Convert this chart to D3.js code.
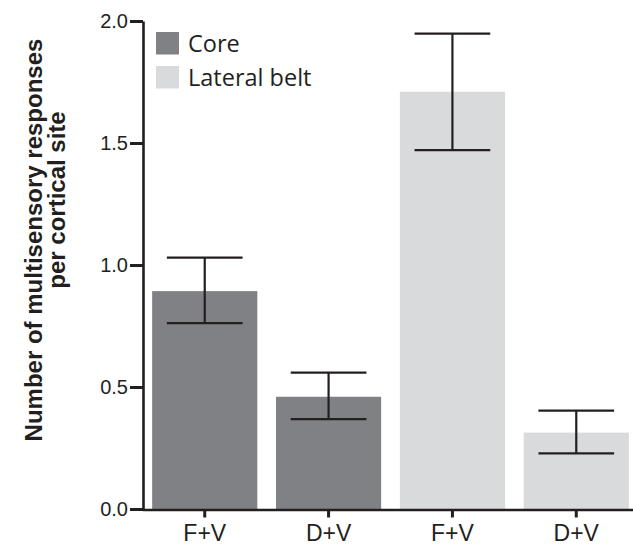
<!DOCTYPE html>
<html lang="en">
<head>
    <meta charset="UTF-8">
    <title></title>
    <style>
        body { margin: 0; background: #fff; }
        .axis text { font-family: "Liberation Sans", Arial, Helvetica, sans-serif; fill: #231f20; }
        .legend text { font-family: "Open Sans", "Noto Sans", sans-serif; fill: #231f20; }
        .ytitle { font-family: "Liberation Sans", Arial, Helvetica, sans-serif; font-weight: bold; fill: #231f20; }
    </style>
</head>
<body>
<svg id="chart"></svg>
<script src="https://cdnjs.cloudflare.com/ajax/libs/d3/7.8.5/d3.min.js"></script>
<script>
    var width = 633;
    var height = 545;

    // data
    var categories = ["F+V", "D+V", "F+V", "D+V"];
    var regions = ["Core", "Core", "Lateral belt", "Lateral belt"];
    var means = [0.893, 0.460, 1.710, 0.313];
    var errHigh = [1.030, 0.559, 1.948, 0.403];
    var errLow = [0.762, 0.368, 1.471, 0.228];
    var yTicks = [0, 0.5, 1.0, 1.5, 2.0];
    var legendItems = ["Core", "Lateral belt"];
    var colors = {"Core": "#808184", "Lateral belt": "#d9dadc"};
    var ink = "#231f20";

    var svg = d3.select("#chart")
        .attr("width", width)
        .attr("height", height);

    var y = d3.scaleLinear().domain([0, 2]).range([509, 21]);
    var x = d3.scaleBand()
        .domain(d3.range(categories.length))
        .range([142.5, 638.5])
        .paddingInner(0.151)
        .paddingOuter(0.078);

    var rows = categories.map(function(c, i) {
        return {i: i, cat: c, region: regions[i], mean: means[i], hi: errHigh[i], lo: errLow[i]};
    });

    //bars
    svg.append("g").selectAll("rect")
        .data(rows)
        .enter()
        .append("rect")
        .attr("x", function(d) { return x(d.i); })
        .attr("width", x.bandwidth())
        .attr("y", function(d) { return y(d.mean); })
        .attr("height", function(d) { return y(0) - y(d.mean); })
        .attr("fill", function(d) { return colors[d.region]; });

    //error bars
    var capW = x.bandwidth() * 0.72;
    var eb = svg.append("g")
        .attr("stroke", ink)
        .attr("stroke-width", 2.2)
        .selectAll("g")
        .data(rows)
        .enter()
        .append("g")
        .attr("transform", function(d) { return "translate(" + (x(d.i) + x.bandwidth() / 2) + ",0)"; });
    eb.append("line")
        .attr("y1", function(d) { return y(d.hi); })
        .attr("y2", function(d) { return y(d.lo); });
    eb.append("line")
        .attr("x1", -capW / 2).attr("x2", capW / 2)
        .attr("y1", function(d) { return y(d.hi); })
        .attr("y2", function(d) { return y(d.hi); });
    eb.append("line")
        .attr("x1", -capW / 2).attr("x2", capW / 2)
        .attr("y1", function(d) { return y(d.lo); })
        .attr("y2", function(d) { return y(d.lo); });

    //y axis
    var yAxis = svg.append("g")
        .attr("class", "axis")
        .attr("transform", "translate(143,0)")
        .call(d3.axisLeft(y).tickValues(yTicks).tickFormat(d3.format(".1f")).tickSize(13).tickPadding(2).tickSizeOuter(0));
    yAxis.select(".domain").attr("stroke", ink).attr("stroke-width", 2.6);
    yAxis.selectAll(".tick line").attr("stroke", ink).attr("stroke-width", 3);
    yAxis.selectAll(".tick text").attr("font-size", 20);

    //x axis
    var xAxis = svg.append("g")
        .attr("class", "axis")
        .attr("transform", "translate(0,509.5)")
        .call(d3.axisBottom(x).tickFormat(function(i) { return categories[i]; }).tickSize(8).tickSizeOuter(0));
    xAxis.select(".domain").attr("stroke", ink).attr("stroke-width", 2.6);
    xAxis.selectAll(".tick line").attr("stroke", ink).attr("stroke-width", 3);
    xAxis.selectAll(".tick text")
        .attr("font-size", 23)
        .attr("dy", null)
        .attr("y", 31);

    //legend
    var legend = svg.append("g")
        .attr("class", "legend")
        .selectAll("g")
        .data(legendItems)
        .enter()
        .append("g")
        .attr("transform", function(d, i) { return "translate(156," + (32 + 34 * i) + ")"; });
    legend.append("rect")
        .attr("width", 23)
        .attr("height", 22.5)
        .attr("fill", function(d) { return colors[d]; });
    legend.append("text")
        .attr("x", 32)
        .attr("y", 20)
        .attr("font-size", 23.5)
        .text(function(d) { return d; });

    //y title, two lines
    svg.append("text")
        .attr("class", "ytitle")
        .attr("transform", "translate(42,240) rotate(-90)")
        .attr("text-anchor", "middle")
        .attr("font-size", 24)
        .text("Number of multisensory responses");
    svg.append("text")
        .attr("class", "ytitle")
        .attr("transform", "translate(65,200) rotate(-90)")
        .attr("text-anchor", "middle")
        .attr("font-size", 24)
        .text("per cortical site");
</script>
</body>
</html>
